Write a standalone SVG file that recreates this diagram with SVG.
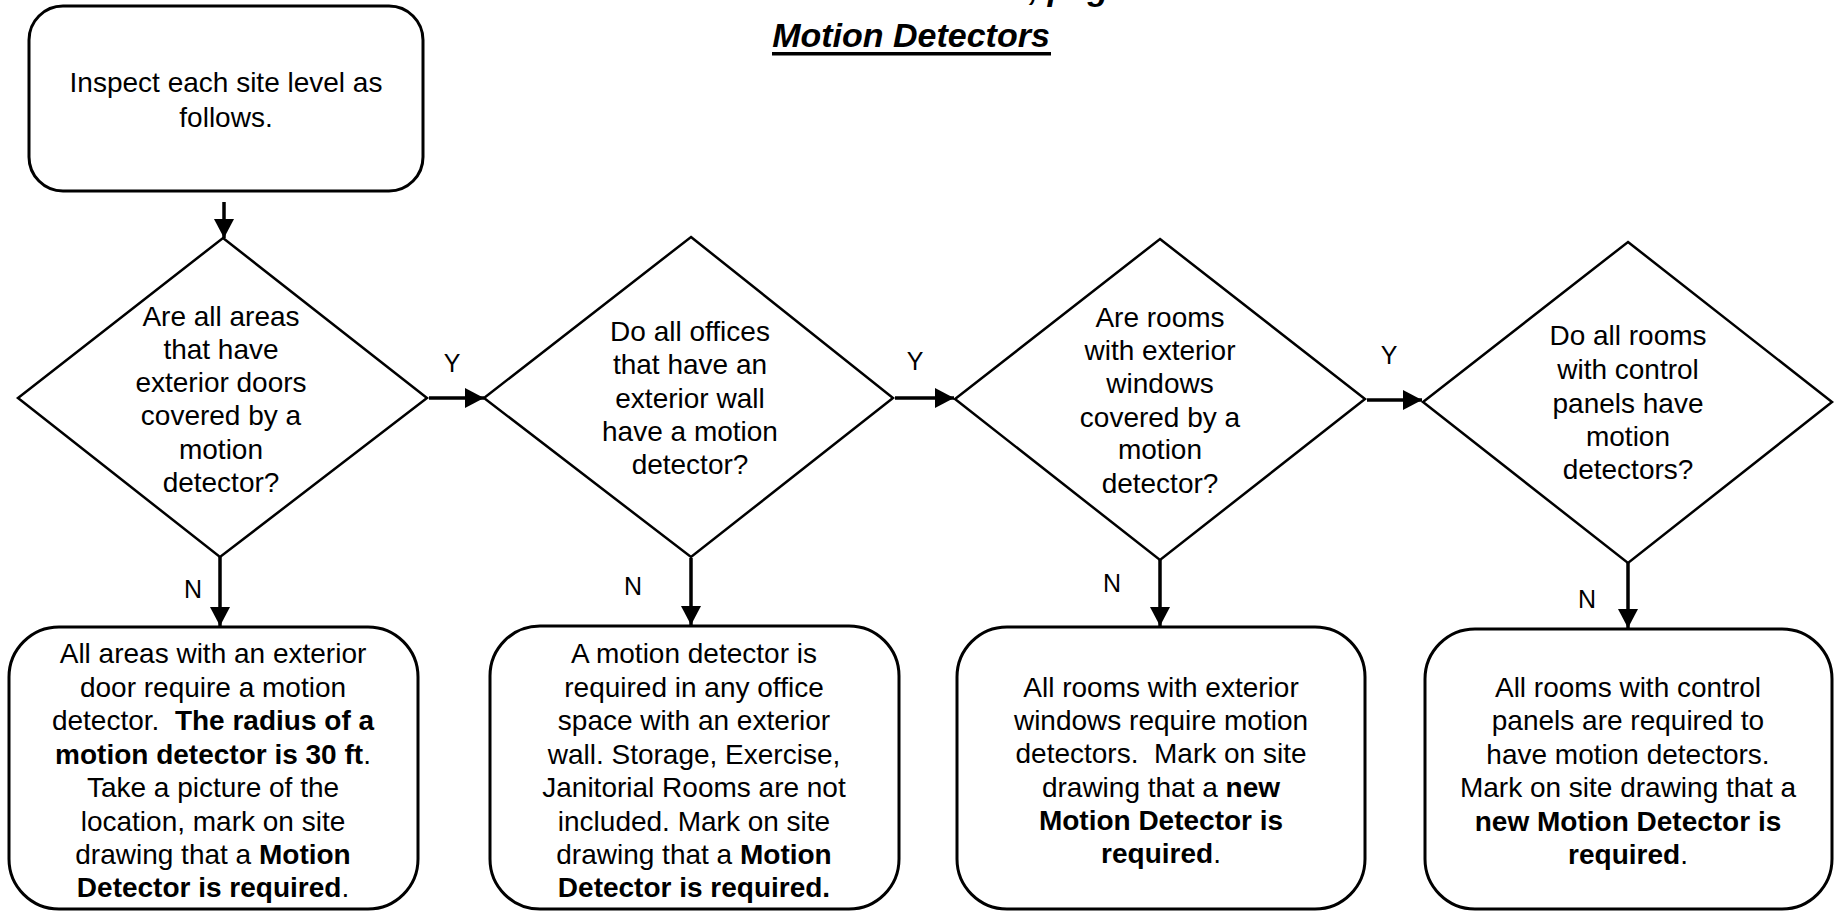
<svg xmlns="http://www.w3.org/2000/svg" width="1837" height="912" viewBox="0 0 1837 912">
<style>
text{font-family:"Liberation Sans",Arial,sans-serif;font-size:28px;fill:#000;text-anchor:middle;white-space:pre}
.b{font-weight:bold}
.box{fill:#fff;stroke:#000;stroke-width:3}
.dia{fill:#fff;stroke:#000;stroke-width:2.5}
.con{stroke:#000;stroke-width:3.5;fill:none;marker-end:url(#ah)}
.lbl{font-size:25px}
.title{font-size:34px;font-weight:bold;font-style:italic}
</style>
<defs>
<marker id="ah" markerUnits="userSpaceOnUse" markerWidth="22" markerHeight="22" refX="19" refY="10" orient="auto">
<path d="M0,0 L19,10 L0,20 z" fill="#000"/>
</marker>
</defs>
<rect width="1837" height="912" fill="#fff"/>
<g id="title">
<text class="title" x="1078" y="0">, page</text>
<text class="title" x="911" y="47">Motion Detectors</text>
<rect x="772" y="52" width="279" height="3.5" fill="#000"/>
</g>
<g id="start">
<rect class="box" x="29" y="6" width="394" height="185" rx="34" ry="34"/>
<text x="226" y="92">Inspect each site level as</text>
<text x="226" y="127">follows.</text>
</g>
<g id="d1">
<polygon class="dia" points="223,238 427,398 220,557 18,398"/>
<text x="221" y="326">Are all areas</text>
<text x="221" y="359">that have</text>
<text x="221" y="392">exterior doors</text>
<text x="221" y="425">covered by a</text>
<text x="221" y="459">motion</text>
<text x="221" y="492">detector?</text>
</g>
<g id="d2">
<polygon class="dia" points="691,237 893,398 691,557 484,398"/>
<text x="690" y="341">Do all offices</text>
<text x="690" y="374">that have an</text>
<text x="690" y="408">exterior wall</text>
<text x="690" y="441">have a motion</text>
<text x="690" y="474">detector?</text>
</g>
<g id="d3">
<polygon class="dia" points="1160,239 1365,399 1160,560 955,399"/>
<text x="1160" y="327">Are rooms</text>
<text x="1160" y="360">with exterior</text>
<text x="1160" y="393">windows</text>
<text x="1160" y="427">covered by a</text>
<text x="1160" y="459">motion</text>
<text x="1160" y="493">detector?</text>
</g>
<g id="d4">
<polygon class="dia" points="1628,242 1832,402 1628,563 1423,402"/>
<text x="1628" y="345">Do all rooms</text>
<text x="1628" y="379">with control</text>
<text x="1628" y="413">panels have</text>
<text x="1628" y="446">motion</text>
<text x="1628" y="479">detectors?</text>
</g>
<g id="b1">
<rect class="box" x="9" y="627" width="409" height="282" rx="50" ry="50"/>
<text x="213" y="663">All areas with an exterior</text>
<text x="213" y="697">door require a motion</text>
<text x="213" y="730">detector.  <tspan class="b">The radius of a</tspan></text>
<text x="213" y="764"><tspan class="b">motion detector is 30 ft</tspan>.</text>
<text x="213" y="797">Take a picture of the</text>
<text x="213" y="831">location, mark on site</text>
<text x="213" y="864">drawing that a <tspan class="b">Motion</tspan></text>
<text x="213" y="897"><tspan class="b">Detector is required</tspan>.</text>
</g>
<g id="b2">
<rect class="box" x="490" y="626" width="409" height="283" rx="50" ry="50"/>
<text x="694" y="663">A motion detector is</text>
<text x="694" y="697">required in any office</text>
<text x="694" y="730">space with an exterior</text>
<text x="694" y="764">wall. Storage, Exercise,</text>
<text x="694" y="797">Janitorial Rooms are not</text>
<text x="694" y="831">included. Mark on site</text>
<text x="694" y="864">drawing that a <tspan class="b">Motion</tspan></text>
<text x="694" y="897" class="b">Detector is required.</text>
</g>
<g id="b3">
<rect class="box" x="957" y="627" width="408" height="282" rx="50" ry="50"/>
<text x="1161" y="697">All rooms with exterior</text>
<text x="1161" y="730">windows require motion</text>
<text x="1161" y="763">detectors.  Mark on site</text>
<text x="1161" y="797">drawing that a <tspan class="b">new</tspan></text>
<text x="1161" y="830" class="b">Motion Detector is</text>
<text x="1161" y="863"><tspan class="b">required</tspan>.</text>
</g>
<g id="b4">
<rect class="box" x="1425" y="629" width="407" height="280" rx="50" ry="50"/>
<text x="1628" y="697">All rooms with control</text>
<text x="1628" y="730">panels are required to</text>
<text x="1628" y="764">have motion detectors.</text>
<text x="1628" y="797">Mark on site drawing that a</text>
<text x="1628" y="831" class="b">new Motion Detector is</text>
<text x="1628" y="864"><tspan class="b">required</tspan>.</text>
</g>
<g id="connectors">
<line class="con" x1="224" y1="202" x2="224" y2="238"/>
<line class="con" x1="429" y1="398" x2="484" y2="398"/>
<line class="con" x1="895" y1="398" x2="954" y2="398"/>
<line class="con" x1="1367" y1="400" x2="1422" y2="400"/>
<line class="con" x1="220" y1="557" x2="220" y2="626"/>
<line class="con" x1="691" y1="558" x2="691" y2="625"/>
<line class="con" x1="1160" y1="560" x2="1160" y2="626"/>
<line class="con" x1="1628" y1="563" x2="1628" y2="628"/>
<text class="lbl" x="452" y="372">Y</text>
<text class="lbl" x="915" y="370">Y</text>
<text class="lbl" x="1389" y="364">Y</text>
<text class="lbl" x="193" y="598">N</text>
<text class="lbl" x="633" y="595">N</text>
<text class="lbl" x="1112" y="592">N</text>
<text class="lbl" x="1587" y="608">N</text>
</g>
</svg>
